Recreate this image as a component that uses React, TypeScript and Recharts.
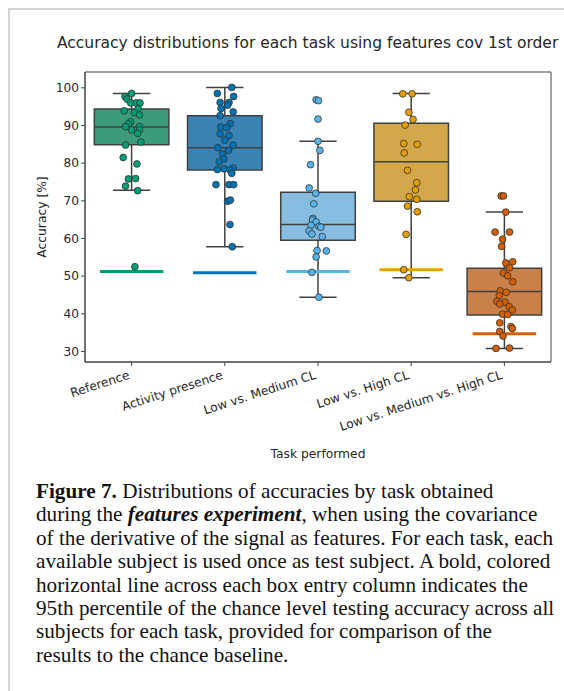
import React from 'react';
import {
  ComposedChart,
  Scatter,
  XAxis,
  YAxis,
  ReferenceArea,
  ReferenceLine,
} from 'recharts';

const categories = [
  'Reference',
  'Activity presence',
  'Low vs. Medium CL',
  'Low vs. High CL',
  'Low vs. Medium vs. High CL',
];

// box statistics per task, in %
const boxQ1 = [84.9, 78.2, 59.5, 69.9, 39.7];
const boxMedian = [89.6, 84.1, 63.7, 80.4, 45.9];
const boxQ3 = [94.4, 92.6, 72.3, 90.6, 52.1];
const whiskerLow = [72.8, 57.8, 44.4, 49.6, 30.8];
const whiskerHigh = [98.5, 100.1, 85.8, 98.5, 67.0];
// 95th percentile of chance level accuracy
const chanceLevel = [51.2, 50.9, 51.2, 51.7, 34.7];

// subject accuracies and their horizontal strip jitter (category units)
const referenceAcc = [98.5, 97.7, 97.0, 96.0, 96.0, 96.0, 94.5, 93.9, 93.4, 92.8, 91.0, 90.4, 89.7, 89.7, 88.8, 88.8, 87.9, 85.6, 84.8, 81.5, 79.8, 75.8, 75.9, 73.9, 72.7, 52.5];
const referenceJit = [0.0, -0.07, -0.05, -0.01, 0.05, 0.09, 0.07, -0.08, 0.03, 0.085, -0.01, -0.035, -0.065, 0.085, 0.0, 0.085, 0.065, 0.1, -0.065, -0.09, 0.057, -0.035, 0.043, -0.065, 0.065, 0.035];

const activityAcc = [100.1, 98.5, 97.7, 96.1, 96.1, 95.4, 94.5, 93.6, 92.6, 90.5, 89.6, 89.4, 87.8, 87.3, 86.1, 84.8, 84.1, 83.4, 82.4, 81.1, 80.4, 78.7, 78.3, 78.5, 78.2, 77.3, 74.3, 74.3, 74.3, 69.9, 70.2, 63.7, 57.8];
const activityJit = [0.075, -0.08, 0.095, -0.05, 0.045, 0.03, -0.04, 0.09, -0.05, 0.06, -0.045, 0.02, -0.05, 0.045, 0.0, 0.09, -0.075, 0.04, -0.025, -0.01, -0.06, 0.09, -0.08, -0.01, 0.055, 0.075, -0.095, 0.045, 0.095, 0.03, 0.06, 0.055, 0.08];

const lowMedAcc = [96.8, 96.6, 91.7, 85.8, 83.4, 79.6, 73.4, 72.0, 69.2, 65.3, 64.9, 64.4, 63.5, 63.2, 63.0, 62.0, 61.2, 60.5, 56.8, 56.7, 55.1, 51.0, 44.4];
const lowMedJit = [-0.02, 0.005, 0.0, 0.0, 0.02, -0.08, -0.095, -0.025, -0.045, -0.055, -0.06, -0.02, -0.075, 0.01, 0.03, -0.095, -0.065, 0.045, -0.01, 0.09, -0.02, -0.065, 0.01];

const lowHighAcc = [98.4, 98.4, 93.5, 91.6, 90.1, 85.2, 85.0, 82.7, 78.1, 74.8, 72.9, 71.1, 70.4, 68.6, 67.1, 61.1, 51.7, 49.6];
const lowHighJit = [-0.09, 0.01, -0.025, 0.02, -0.065, -0.08, 0.065, -0.075, -0.04, 0.06, 0.045, -0.02, 0.06, -0.04, 0.065, -0.055, -0.08, -0.025];

const allThreeAcc = [71.3, 71.3, 67.0, 61.7, 61.7, 59.8, 57.9, 53.5, 53.8, 52.2, 50.8, 50.1, 48.5, 46.1, 45.7, 44.8, 43.3, 43.1, 42.6, 41.9, 41.0, 39.9, 39.8, 37.6, 36.6, 36.1, 35.3, 34.1, 30.8, 30.9];
const allThreeJit = [-0.035, -0.01, 0.015, -0.1, 0.055, -0.02, -0.03, 0.015, 0.09, 0.055, -0.01, 0.035, 0.09, -0.045, 0.02, -0.055, -0.08, 0.005, -0.05, 0.05, 0.085, -0.02, 0.035, -0.05, 0.07, 0.085, -0.05, -0.015, -0.09, 0.055];

const yTicks = [30, 40, 50, 60, 70, 80, 90, 100];

const pointColors = ['#029E73', '#0173B2', '#56B4E9', '#E69F00', '#D55E00'];
const boxColors = ['#3c9b7b', '#3a83b4', '#86bde1', '#d3a84b', '#c98049'];
const EDGE = '#404040';

const taskPoints = [
  [referenceAcc, referenceJit],
  [activityAcc, activityJit],
  [lowMedAcc, lowMedJit],
  [lowHighAcc, lowHighJit],
  [allThreeAcc, allThreeJit],
].map(([acc, jit], i) => acc.map((v, k) => ({ x: i + jit[k], y: v })));

const FONT = 'DejaVu Sans, sans-serif';
const TXT = '#262626';

function XTick({ x, y, payload }: any) {
  return (
    <g transform={`translate(${x - 4},${y + 2})`}>
      <text
        textAnchor="end"
        dominantBaseline="hanging"
        transform="rotate(-18)"
        fontSize={12.2}
        fontFamily={FONT}
        fill={TXT}
      >
        {categories[payload.value]}
      </text>
    </g>
  );
}

function Dot(color: string) {
  return (props: any) => (
    <circle cx={props.cx} cy={props.cy} r={3.4} fill={color} stroke="#333" strokeWidth={0.8} />
  );
}

const captionLines = [
  <><b>Figure 7.</b> Distributions of accuracies by task obtained</>,
  <>during the <b><i>features experiment</i></b>, when using the covariance</>,
  <>of the derivative of the signal as features. For each task, each</>,
  <>available subject is used once as test subject. A bold, colored</>,
  <>horizontal line across each box entry column indicates the</>,
  <>95th percentile of the chance level testing accuracy across all</>,
  <>subjects for each task, provided for comparison of the</>,
  <>results to the chance baseline.</>,
];

export default function App() {
  const Y_DOMAIN: [number, number] = [27.2, 104.2];
  return (
    <div style={{ position: 'absolute', left: 0, top: 0, width: 564, height: 691, overflow: 'hidden', background: '#fff' }}>
      <div style={{ position: 'absolute', left: 8, top: 8, width: 2, height: 683, background: '#d4d4d4' }} />
      <div style={{ position: 'absolute', left: 8, top: 8, width: 556, height: 2, background: '#d4d4d4' }} />
      <div
        style={{
          position: 'absolute',
          left: 57,
          top: 34,
          fontFamily: FONT,
          fontSize: 15.5,
          color: TXT,
          whiteSpace: 'nowrap',
        }}
      >
        Accuracy distributions for each task using features cov 1st order
      </div>
      <div style={{ position: 'absolute', left: 0, top: 0 }}>
        <ComposedChart
          width={564}
          height={470}
          margin={{ top: 72, right: 13, bottom: 10, left: 45 }}
        >
          <XAxis
            type="number"
            dataKey="x"
            domain={[-0.5, 4.5]}
            ticks={[0, 1, 2, 3, 4]}
            allowDataOverflow
            tick={<XTick />}
            tickSize={4}
            height={98}
            stroke="#444"
            tickLine={{ stroke: '#444' }}
            label={{ value: 'Task performed', position: 'insideBottom', offset: 2, fontSize: 12.3, fontFamily: FONT, fill: TXT }}
          />
          <YAxis
            type="number"
            dataKey="y"
            domain={Y_DOMAIN}
            ticks={yTicks}
            allowDataOverflow
            width={40}
            tickSize={4}
            stroke="#444"
            tick={{ fontSize: 12.2, fontFamily: FONT, fill: TXT }}
            label={{ value: 'Accuracy [%]', angle: -90, position: 'insideLeft', offset: -3, fontSize: 12.3, fontFamily: FONT, fill: TXT, style: { textAnchor: 'middle' } }}
          />
          <ReferenceArea x1={-0.5} x2={4.5} y1={Y_DOMAIN[0]} y2={Y_DOMAIN[1]} fill="none" stroke="#444" strokeWidth={1} />
          {categories.map((c, i) => (
            <ReferenceArea
              key={`box-${c}`}
              x1={i - 0.4}
              x2={i + 0.4}
              y1={boxQ1[i]}
              y2={boxQ3[i]}
              fill={boxColors[i]}
              fillOpacity={1}
              stroke={EDGE}
              strokeWidth={1.5}
            />
          ))}
          {categories.map((c, i) => (
            <ReferenceLine key={`med-${c}`} segment={[{ x: i - 0.4, y: boxMedian[i] }, { x: i + 0.4, y: boxMedian[i] }]} stroke={EDGE} strokeWidth={1.5} />
          ))}
          {categories.map((c, i) => (
            <ReferenceLine key={`wh-${c}`} segment={[{ x: i, y: boxQ3[i] }, { x: i, y: whiskerHigh[i] }]} stroke={EDGE} strokeWidth={1.5} />
          ))}
          {categories.map((c, i) => (
            <ReferenceLine key={`wl-${c}`} segment={[{ x: i, y: boxQ1[i] }, { x: i, y: whiskerLow[i] }]} stroke={EDGE} strokeWidth={1.5} />
          ))}
          {categories.map((c, i) => (
            <ReferenceLine key={`ch-${c}`} segment={[{ x: i - 0.2, y: whiskerHigh[i] }, { x: i + 0.2, y: whiskerHigh[i] }]} stroke={EDGE} strokeWidth={1.5} />
          ))}
          {categories.map((c, i) => (
            <ReferenceLine key={`cl-${c}`} segment={[{ x: i - 0.2, y: whiskerLow[i] }, { x: i + 0.2, y: whiskerLow[i] }]} stroke={EDGE} strokeWidth={1.5} />
          ))}
          {categories.map((c, i) => (
            <ReferenceLine key={`chance-${c}`} segment={[{ x: i - 0.34, y: chanceLevel[i] }, { x: i + 0.34, y: chanceLevel[i] }]} stroke={pointColors[i]} strokeWidth={3} />
          ))}
          {categories.map((c, i) => (
            <Scatter key={`pts-${c}`} data={taskPoints[i]} shape={Dot(pointColors[i])} isAnimationActive={false} />
          ))}
        </ComposedChart>
      </div>
      <div
        style={{
          position: 'absolute',
          left: 36,
          top: 480,
          fontFamily: 'Liberation Serif, serif',
          fontSize: 21.2,
          lineHeight: '23.4px',
          color: '#111',
          whiteSpace: 'nowrap',
        }}
      >
        {captionLines.map((l, i) => (
          <div key={i}>{l}</div>
        ))}
      </div>
    </div>
  );
}
